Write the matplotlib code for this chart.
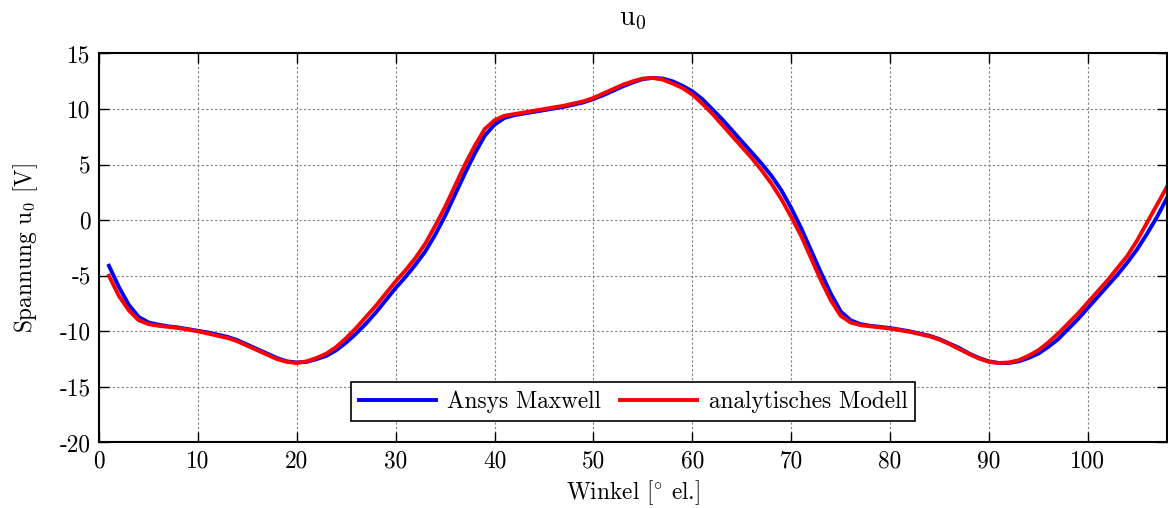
import numpy as np
import matplotlib
matplotlib.use('Agg')
import matplotlib.pyplot as plt

# Winkel in Grad elektrisch
winkel = np.arange(1, 109)

# Ansys Maxwell (blau)
u0_maxwell = [
    -4.1, -6.0, -7.6, -8.7, -9.2, -9.4, -9.55, -9.65, -9.8, -9.95,
    -10.1, -10.3, -10.5, -10.8, -11.2, -11.6, -12.0, -12.4, -12.7, -12.8,
    -12.75, -12.5, -12.2, -11.7, -11.0, -10.2, -9.3, -8.3, -7.2, -6.1,
    -5.1, -4.0, -2.8, -1.3, 0.4, 2.3, 4.2, 6.0, 7.6, 8.6,
    9.2, 9.45, 9.6, 9.75, 9.9, 10.05, 10.2, 10.4, 10.6, 10.9,
    11.25, 11.65, 12.05, 12.4, 12.7, 12.8, 12.75, 12.5, 12.1, 11.6,
    10.9, 10.0, 9.1, 8.1, 7.1, 6.1, 5.1, 4.0, 2.7, 1.1,
    -0.7, -2.7, -4.7, -6.6, -8.2, -9.0, -9.35, -9.5, -9.6, -9.7,
    -9.85, -10.0, -10.2, -10.4, -10.7, -11.1, -11.5, -12.0, -12.4, -12.7,
    -12.85, -12.85, -12.7, -12.4, -12.0, -11.4, -10.7, -9.8, -8.9, -7.9,
    -6.9, -5.9, -4.9, -3.8, -2.6, -1.2, 0.3, 2.0,
]

# analytisches Modell (rot)
u0_analytisch = [
    -5.0, -6.8, -8.1, -9.0, -9.35, -9.5, -9.6, -9.7, -9.85, -10.0,
    -10.2, -10.4, -10.6, -10.9, -11.3, -11.7, -12.1, -12.5, -12.75, -12.85,
    -12.7, -12.4, -12.0, -11.4, -10.6, -9.7, -8.7, -7.7, -6.6, -5.5,
    -4.5, -3.4, -2.1, -0.5, 1.2, 3.1, 5.0, 6.7, 8.2, 9.0,
    9.4, 9.55, 9.7, 9.85, 10.0, 10.15, 10.3, 10.5, 10.7, 11.0,
    11.4, 11.8, 12.2, 12.5, 12.75, 12.8, 12.65, 12.3, 11.9, 11.3,
    10.5, 9.6, 8.6, 7.6, 6.6, 5.6, 4.5, 3.3, 1.9, 0.3,
    -1.4, -3.4, -5.4, -7.2, -8.6, -9.2, -9.45, -9.55, -9.65, -9.75,
    -9.9, -10.05, -10.25, -10.45, -10.75, -11.15, -11.6, -12.05, -12.45, -12.75,
    -12.85, -12.8, -12.6, -12.2, -11.7, -11.0, -10.2, -9.3, -8.4, -7.4,
    -6.4, -5.4, -4.3, -3.2, -1.8, -0.2, 1.4, 3.0,
]

xticks = np.arange(0, 101, 10)
yticks = np.arange(-20, 16, 5)

plt.rcParams['font.family'] = ['cmr10', 'DejaVu Serif']
plt.rcParams['mathtext.fontset'] = 'cm'
plt.rcParams['axes.unicode_minus'] = False
plt.rcParams['font.size'] = 16.8

fig = plt.figure(figsize=(11.68, 5.08), dpi=100)
ax = fig.add_axes([0.0848, 0.129, 0.9143, 0.7657])

ax.plot(winkel, u0_maxwell, color='#0000ff', lw=2.8, label='Ansys Maxwell')
ax.plot(winkel, u0_analytisch, color='#ff0000', lw=2.8, label='analytisches Modell')

ax.set_xlim(0, 108)
ax.set_ylim(-20, 15)
ax.set_xticks(xticks)
ax.set_yticks(yticks)
ax.grid(True, color='#808080', linestyle=(0, (2, 2)), linewidth=0.8)
ax.tick_params(direction='in', top=True, right=True, length=7, width=1.0, pad=6)
for sp in ax.spines.values():
    sp.set_linewidth(1.5)

ax.set_title(r'$\mathrm{u}_{0}$', pad=20)
ax.set_xlabel(r'Winkel [${}^{\circ}$ el.]', labelpad=4)
ax.set_ylabel(r'Spannung $\mathrm{u}_{0}$ [V]', labelpad=14)

leg = ax.legend(loc='lower center', bbox_to_anchor=(0.5, 0.025), ncol=2,
                fancybox=False, framealpha=1, edgecolor='black',
                handlelength=3.3, handletextpad=0.5, columnspacing=0.8,
                borderpad=0.35)
leg.get_frame().set_linewidth(1.2)

fig.savefig('out.png', dpi=100)
